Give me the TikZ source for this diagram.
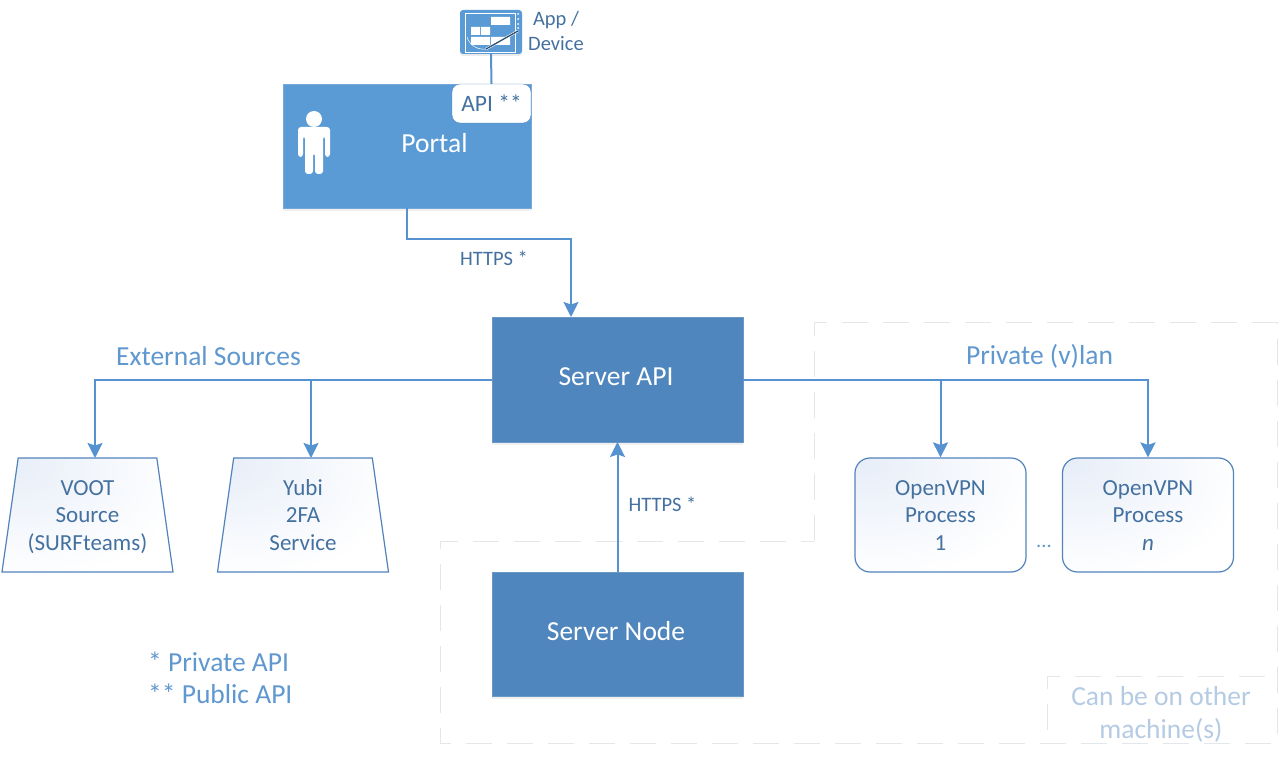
\documentclass[tikz,border=0pt]{standalone}
\usepackage{fontspec}
\setmainfont{Carlito}
\usetikzlibrary{arrows.meta,shapes.geometric,shadows}
\definecolor{portalblue}{HTML}{5B9BD5}
\definecolor{serverblue}{HTML}{4F86BD}
\definecolor{edgeblue}{HTML}{5692CF}
\definecolor{boxline}{HTML}{5283BC}
\definecolor{inktext}{HTML}{44719F}
\definecolor{softtext}{HTML}{5F97CF}
\definecolor{fadetext}{HTML}{B4CBE3}
\definecolor{framegray}{HTML}{E4E7EA}
\definecolor{washblue}{HTML}{E6EDF8}
\pgfdeclareradialshading{cornerwash}{\pgfpoint{-25bp}{25bp}}{color(0bp)=(washblue); color(42bp)=(white); color(100bp)=(white)}
\tikzset{
  mainbox/.style={draw=#1!85!white, fill=#1, text=white, font=\fontsize{27.5}{30}\selectfont, text height=18pt, text depth=6pt, minimum height=124.5pt, inner sep=0pt, execute at end node=\hspace{3pt}, drop shadow={shadow xshift=0pt, shadow yshift=-3pt, opacity=.12}},
  boxtext/.style={text=inktext, font=\fontsize{23}{27.5}\selectfont, align=center, text width=125pt, minimum width=171pt, minimum height=114pt, inner sep=0pt, execute at begin node=\rule{0pt}{24pt}, execute at end node=\strut},
  procbox/.style={boxtext, draw=boxline, line width=1.2pt, rounded corners=15pt, shading=cornerwash},
  sourcebox/.style={boxtext, draw=boxline, line width=1.2pt, trapezium, trapezium angle=80.5, trapezium stretches=true, shading=cornerwash},
  smalllabel/.style={text=inktext, font=\fontsize{20.5}{24.5}\selectfont, align=center, inner sep=0pt},
  biglabel/.style={text=softtext, font=\fontsize{27.5}{33}\selectfont, inner sep=0pt},
  link/.style={draw=edgeblue, line width=2pt},
  arrowlink/.style={link, -{Stealth[length=15pt, width=15pt, inset=2.5pt]}},
  machineframe/.style={draw=framegray, line width=1pt, dash pattern=on 26pt off 15pt},
}
\begin{document}
\begin{tikzpicture}[x=1pt, y=-1pt]
  \useasboundingbox (0,0) rectangle (1280,759);
  % machine frames
  \draw[machineframe] (814,541) -- (814,323) -- (1277,323) -- (1277,743) -- (440,743) -- (440,541) -- (814,541);
  \draw[machineframe] (1047,730) -- (1047,676) -- (1272,676);
  % boxes
  \node[mainbox=portalblue, minimum width=248pt] (portal) at (407,146) {};
  \node[text=white, font=\fontsize{27.5}{30}\selectfont, inner sep=0pt] (portaltext) at (434.5,143) {Portal};
  \node[draw=boxline, fill=white, rounded corners=8pt, text=inktext, font=\fontsize{23.5}{26}\selectfont, minimum width=79pt, minimum height=39pt, inner sep=0pt] (publicapi) at (491.5,103.5) {API **};
  \node[mainbox=serverblue, minimum width=251pt] (serverapi) at (617.5,379.5) {Server API};
  \node[mainbox=serverblue, minimum width=251pt] (servernode) at (617.5,634) {Server Node};
  \node[sourcebox] (voot) at (87.5,515) {VOOT\\Source\\(SURFteams)};
  \node[sourcebox] (yubi) at (303,515) {Yubi\\2FA\\Service};
  \node[procbox] (open1) at (940.5,515) {OpenVPN\\Process\\1};
  \node[procbox] (openn) at (1148,515) {OpenVPN\\Process\\\textit{n}};
  % app icon
  \node[fill=portalblue, rounded corners=3pt, minimum width=62pt, minimum height=44pt, inner sep=0pt, drop shadow={shadow xshift=0pt, shadow yshift=-2pt, opacity=.15}] (appicon) at (491,32) {};
  \draw[white, line width=.6pt] (465,13) rectangle (515,52);
  \fill[white] (491,17) rectangle (510,25) (471,27) rectangle (480,35) (481,27) rectangle (490,35) (471,37) rectangle (490,45) (491,37) rectangle (510,45);
  \draw[white, line width=.5pt] (467,37) .. controls (470,46) and (478,50) .. (486,49);
  \foreach \y in {14,19,24,28} \fill[white] (518,\y) circle (1pt);
  \draw[white, line width=2.4pt] (486,49) -- (518,31);
  \draw[inktext!70!black, line width=1.3pt] (486,49) -- (518,31);
  % person
  \fill[white] (314,119) circle (8pt);
  \fill[white, rounded corners=3pt] (298,157) -- (298,127) -- (330,127) -- (330,157) -- (325,157) -- (325,136) -- (323,136) -- (323,174) -- (315,174) -- (315,153) -- (313,153) -- (313,174) -- (305,174) -- (305,136) -- (303,136) -- (303,157) -- cycle;
  % entry points on the boxes
  \coordinate (apiin) at (571,317);
  \coordinate (vootin) at (95,458);
  \coordinate (yubiin) at (311,458);
  % labels
  \node[smalllabel] (applabel) at (556,31) {App /\\Device};
  \node[smalllabel] (portalhttps) at (494,258) {HTTPS *};
  \node[smalllabel] (nodehttps) at (662.5,504) {HTTPS *};
  \node[biglabel] (extlabel) at (208.5,356) {External Sources};
  \node[biglabel] (vlanlabel) at (1039.5,356.5) {Private (v)lan};
  \node[biglabel, anchor=west] (privlabel) at (148,662) {* Private API};
  \node[biglabel, anchor=west] (publabel) at (148,694) {** Public API};
  \node[biglabel, text=fadetext, align=center] (otherlabel) at (1161,714.5) {Can be on other\\machine(s)};
  \node[smalllabel, text=softtext] (dotslabel) at (1044,546) {...};
  % connectors
  \begin{scope}[link]
    \draw[link] (appicon.south) -- (publicapi.north);
    \draw[arrowlink] (portal.south) -- ++(0,31) -| (apiin);
    \draw[arrowlink] (serverapi.west) -| (vootin);
    \draw[arrowlink] (serverapi.west) -| (yubiin);
    \draw[arrowlink] (serverapi.east) -| (open1.north);
    \draw[arrowlink] (serverapi.east) -| (openn.north);
    \draw[arrowlink] (servernode.north) -- (serverapi.south);
  \end{scope}
\end{tikzpicture}
\end{document}
